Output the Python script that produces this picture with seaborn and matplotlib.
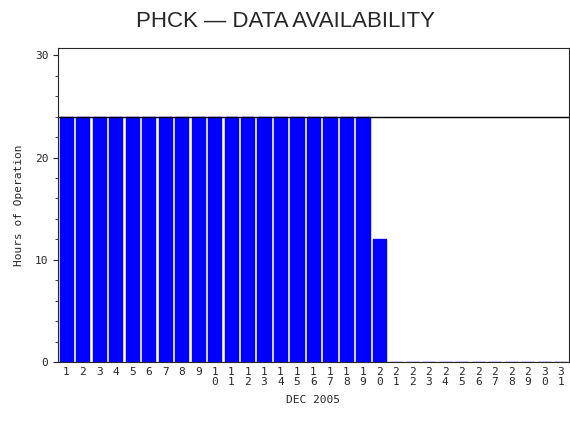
import matplotlib
matplotlib.use("Agg")
import matplotlib.pyplot as plt
import seaborn as sns
import pandas as pd
from matplotlib.ticker import MultipleLocator

days = [str(d) for d in range(1, 32)]
hours = [24]*19 + [12] + [0]*11
tick_labels = ["\n".join(d) for d in days]

sns.set_style("ticks")
plt.rcParams['font.family'] = ['DejaVu Sans Mono']
fig = plt.figure(figsize=(5.7, 4.3), dpi=100)
ax = fig.add_axes([0.102, 0.158, 0.896, 0.73])
df = pd.DataFrame({"day": days, "hours": hours})
sns.barplot(data=df, x="day", y="hours", color="#0000ff", saturation=1, width=0.8, ax=ax, edgecolor="#0000ff")
ax.axhline(24, color="black", lw=1)
ax.set_xlim(-0.5, 30.5)
ax.set_ylim(0, 30.7)
ax.yaxis.set_major_locator(MultipleLocator(10))
ax.yaxis.set_minor_locator(MultipleLocator(2))
ax.set_yticks([0, 10, 20, 30])
ax.set_xticks(range(31))
ax.set_xticklabels(tick_labels, fontsize=8, linespacing=1.0)
ax.tick_params(axis='y', labelsize=8)
ax.tick_params(axis='x', length=0)
for s in ax.spines.values():
    s.set_linewidth(0.8)
ax.set_xlabel("DEC 2005", fontsize=8, labelpad=6)
ax.set_ylabel("Hours of Operation", fontsize=8, labelpad=8)
fig.suptitle("PHCK \u2014 DATA AVAILABILITY", fontsize=16, y=0.975, family="Liberation Sans")
fig.savefig("out.png", dpi=100)
